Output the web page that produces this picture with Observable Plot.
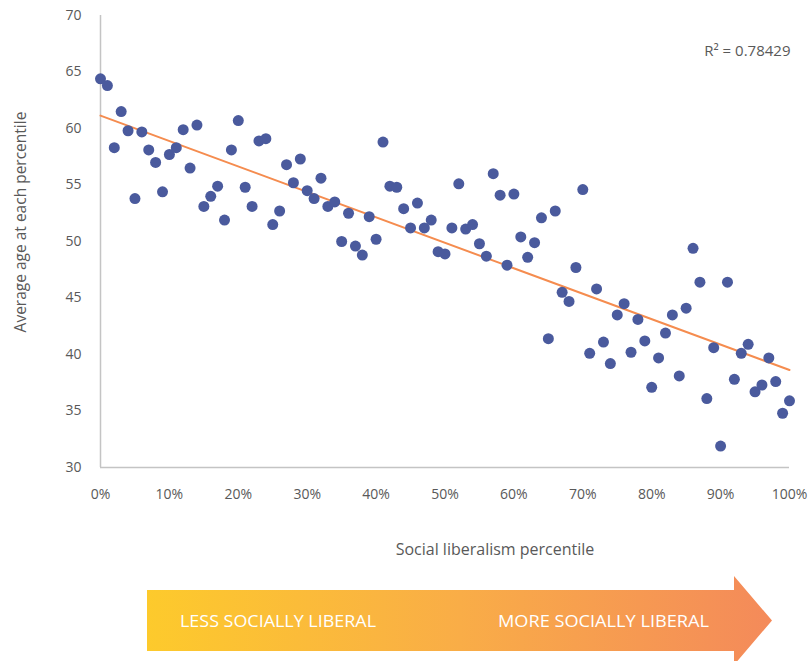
<!DOCTYPE html>
<html><head><meta charset="utf-8">
<script src="https://cdn.jsdelivr.net/npm/d3@7"></script>
<script src="https://cdn.jsdelivr.net/npm/@observablehq/plot@0.6"></script>
<style>
html,body{margin:0;padding:0;background:#fff;}
#chart svg{display:block;}
</style></head><body><div id="chart"></div>
<script>
const percentile = [0,1,2,3,4,5,6,7,8,9,10,11,12,13,14,15,16,17,18,19,20,21,22,23,24,25,26,27,28,29,30,31,32,33,34,35,36,37,38,39,40,41,42,43,44,45,46,47,48,49,50,51,52,53,54,55,56,57,58,59,60,61,62,63,64,65,66,67,68,69,70,71,72,73,74,75,76,77,78,79,80,81,82,83,84,85,86,87,88,89,90,91,92,93,94,95,96,97,98,99,100];
const avgAge = [64.4,63.8,58.3,61.5,59.8,53.8,59.7,58.1,57.0,54.4,
  57.7,58.3,59.9,56.5,60.3,53.1,54.0,54.9,51.9,58.1,
  60.7,54.8,53.1,58.9,59.1,51.5,52.7,56.8,55.2,57.3,
  54.5,53.8,55.6,53.1,53.5,50.0,52.5,49.6,48.8,52.2,
  50.2,58.8,54.9,54.8,52.9,51.2,53.4,51.2,51.9,49.1,
  48.9,51.2,55.1,51.1,51.5,49.8,48.7,56.0,54.1,47.9,
  54.2,50.4,48.6,49.9,52.1,41.4,52.7,45.5,44.7,47.7,
  54.6,40.1,45.8,41.1,39.2,43.5,44.5,40.2,43.1,41.2,
  37.1,39.7,41.9,43.5,38.1,44.1,49.4,46.4,36.1,40.6,
  31.9,46.4,37.8,40.1,40.9,36.7,37.3,39.7,37.6,34.8,35.9];
const xTicks = [0,10,20,30,40,50,60,70,80,90,100];
const yTicks = [30,35,40,45,50,55,60,65,70];
const rSquaredLabel = "R\u00b2 = 0.78429";
const xTitle = "Social liberalism percentile";
const yTitle = "Average age at each percentile";
const arrowLabels = ["LESS SOCIALLY LIBERAL", "MORE SOCIALLY LIBERAL"];

const data = percentile.map((p, i) => ({p, age: avgAge[i]}));
const FONT = "'Open Sans', sans-serif";

const plot = Plot.plot({
  width: 811, height: 570,
  marginTop: 15, marginLeft: 100, marginRight: 22, marginBottom: 103,
  style: {fontFamily: FONT, fontSize: "14px", color: "#595959", background: "white"},
  x: {domain: [0, 100], ticks: xTicks, tickFormat: d => d + "%", tickSize: 0, tickPadding: 22, label: null},
  y: {domain: [30, 70], ticks: yTicks, tickSize: 0, tickPadding: 19, label: null},
  marks: [
    Plot.ruleX([0], {stroke: "#c4c4c4", strokeWidth: 1.5}),
    Plot.ruleY([30], {stroke: "#c4c4c4", strokeWidth: 1.5}),
    Plot.linearRegressionY(data, {x: "p", y: "age", stroke: "#f58c4f", strokeWidth: 2, ci: 0}),
    Plot.dot(data, {x: "p", y: "age", r: 5.5, fill: "#4a5a9d"}),
    Plot.text([rSquaredLabel], {frameAnchor: "top-right", textAnchor: "end", dy: 30, dx: 1, fontSize: 15})
  ]
});
const ps = d3.select(plot);
ps.append("text").text(xTitle)
  .attr("x", 495).attr("y", 549)
  .attr("text-anchor", "middle").attr("dominant-baseline", "central")
  .attr("fill", "#595959").attr("font-family", FONT).attr("font-size", 16);
ps.append("text").text(yTitle)
  .attr("transform", "translate(20,222) rotate(-90)")
  .attr("text-anchor", "middle").attr("dominant-baseline", "central")
  .attr("fill", "#595959").attr("font-family", FONT).attr("font-size", 15.5);
document.getElementById("chart").appendChild(plot);

// Decorative direction arrow below the chart
const W = 811, H = 91;
const svg = d3.select("#chart").append("svg").attr("width", W).attr("height", H);
const grad = svg.append("defs").append("linearGradient").attr("id", "ag")
  .attr("x1", "0%").attr("x2", "100%").attr("y1", "0%").attr("y2", "0%");
grad.append("stop").attr("offset", "0%").attr("stop-color", "#fdca2c");
grad.append("stop").attr("offset", "50%").attr("stop-color", "#f9ad47");
grad.append("stop").attr("offset", "100%").attr("stop-color", "#f48a5a");
const left = 147, baseX = 734, tipX = 772, cy = 50.5, bodyHalf = 30.5, headHalf = 44.5;
svg.append("path")
  .attr("d", `M${left},${cy - bodyHalf}H${baseX}V${cy - headHalf}L${tipX},${cy}L${baseX},${cy + headHalf}V${cy + bodyHalf}H${left}Z`)
  .attr("fill", "url(#ag)");
const labelPos = [{x: 180, w: 196}, {x: 498, w: 211}];
arrowLabels.forEach((t, i) => {
  svg.append("text").text(t)
    .attr("x", labelPos[i].x).attr("y", cy)
    .attr("dominant-baseline", "central")
    .attr("fill", "white")
    .attr("font-family", FONT)
    .attr("font-size", 16)
    .attr("textLength", labelPos[i].w)
    .attr("lengthAdjust", "spacingAndGlyphs");
});
</script>
</body></html>
